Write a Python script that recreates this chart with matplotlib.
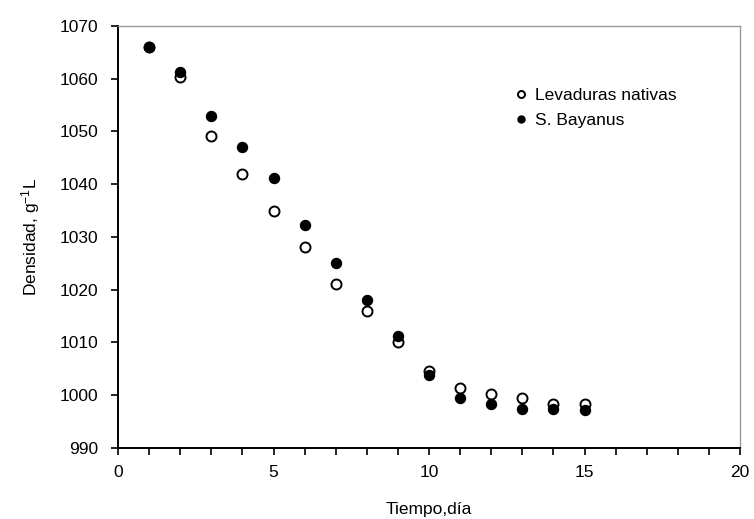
import matplotlib

matplotlib.use("Agg")
import matplotlib.pyplot as plt
from matplotlib.ticker import MultipleLocator

plt.rcParams["font.family"] = ["Liberation Sans", "DejaVu Sans"]
plt.rcParams["mathtext.fontset"] = "custom"
plt.rcParams["mathtext.rm"] = "Liberation Sans"
plt.rcParams["mathtext.it"] = "Liberation Sans"

# fermentation days
dias = [1, 2, 3, 4, 5, 6, 7, 8, 9, 10, 11, 12, 13, 14, 15]
# density, g/L
nativas = [1066.0, 1060.4, 1049.2, 1042.0, 1035.0, 1028.1, 1021.0, 1016.0,
           1010.1, 1004.6, 1001.4, 1000.3, 999.4, 998.3, 998.3]
bayanus = [1066.0, 1061.2, 1053.0, 1047.0, 1041.2, 1032.2, 1025.0, 1018.0,
           1011.2, 1003.9, 999.5, 998.3, 997.4, 997.4, 997.2]

FS = 12.5

fig = plt.figure(figsize=(7.54, 5.19), dpi=100)
ax = fig.add_axes([0.1565, 0.1368, 0.825, 0.8132])

ax.plot(dias, nativas, "o", ms=7.2, mfc="white", mec="black", mew=1.4,
        label="Levaduras nativas")
ax.plot(dias, bayanus, "o", ms=7.2, mfc="black", mec="black",
        label="S. Bayanus")

ax.set_xlim(0, 20)
ax.set_ylim(990, 1070)
ax.xaxis.set_major_locator(MultipleLocator(5))
ax.xaxis.set_minor_locator(MultipleLocator(1))
ax.yaxis.set_major_locator(MultipleLocator(10))
ax.tick_params(which="both", direction="out", length=5, width=1.2,
               labelsize=FS, color="black")
ax.tick_params(axis="x", pad=7)
ax.tick_params(axis="y", pad=9)

for side in ["top", "right"]:
    ax.spines[side].set_color("#999999")
    ax.spines[side].set_linewidth(1.0)
for side in ["left", "bottom"]:
    ax.spines[side].set_color("black")
    ax.spines[side].set_linewidth(1.4)

ax.set_xlabel("Tiempo,día", fontsize=FS, labelpad=16)
ax.set_ylabel(r"Densidad, g$^{-1}$L", fontsize=FS, labelpad=13)

ax.legend(loc="center left", bbox_to_anchor=(0.615, 0.805), frameon=False,
          fontsize=FS, handlelength=0.6, handletextpad=0.5, markerscale=0.7,
          labelspacing=0.55)

fig.savefig("out.png", dpi=100)
